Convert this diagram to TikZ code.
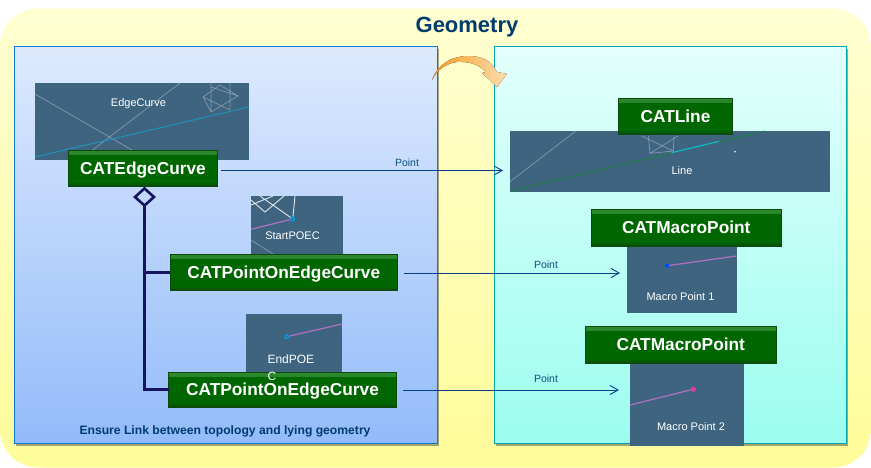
\documentclass[tikz,border=0pt]{standalone}
\usepackage{xcolor}
\usepackage{fontspec}
\setmainfont{Liberation Sans}
\usetikzlibrary{arrows.meta,positioning,shapes.geometric,shadows}
\definecolor{bgtop}{HTML}{FFFFD2}
\definecolor{bgbot}{HTML}{FFFC9A}
\definecolor{lefttop}{HTML}{DDEAFD}
\definecolor{leftbot}{HTML}{93BBFA}
\definecolor{lefteg}{HTML}{0A78D8}
\definecolor{righttop}{HTML}{E4FFFB}
\definecolor{rightbot}{HTML}{9BFDEF}
\definecolor{righteg}{HTML}{00A5AD}
\definecolor{viewcol}{HTML}{3E6480}
\definecolor{catcol}{HTML}{006600}
\definecolor{cattop}{HTML}{2F8A2F}
\definecolor{catbot}{HTML}{0C4A0C}
\definecolor{linkcol}{HTML}{0A3F8C}
\definecolor{stemcol}{HTML}{15155F}
\definecolor{txtcol}{HTML}{0B4F80}
\definecolor{titlecol}{HTML}{003C6E}
\definecolor{pinkcol}{HTML}{B070C0}
\definecolor{cyancol}{HTML}{1F93B8}
\definecolor{linecol}{HTML}{8498A8}
\definecolor{greencol}{HTML}{1F7F45}
\definecolor{arrowa}{HTML}{F79A1E}
\definecolor{arrowb}{HTML}{FBDDB0}

\begin{document}
\begin{tikzpicture}[x=1pt,y=-1pt,
		>={Straight Barb[length=8pt,width=9pt]},
		every node/.append style = {inner sep=0pt,outer sep=0pt},
		panelshadow/.style = {drop shadow={shadow xshift=1.5pt,shadow yshift=-2.5pt,opacity=.35,fill=black}},
		leftpanel/.style = {draw=lefteg,line width=1pt,top color=lefttop,bottom color=leftbot,panelshadow},
		rightpanel/.style = {draw=righteg,line width=1pt,top color=righttop,bottom color=rightbot,panelshadow},
		viewbox/.style = {fill=viewcol},
		viewtxt/.style = {text=white,font=\fontsize{11}{13}\selectfont},
		catbox/.style = {draw=catbot,line width=.8pt,fill=catcol,text=white,text height=12.4pt,text depth=0pt,
			font=\fontsize{17.3}{20}\selectfont\bfseries,
			path picture={
				\shade[top color=cattop,bottom color=catcol] (path picture bounding box.north west) rectangle ([yshift=-4pt]path picture bounding box.north east);
				\shade[top color=catcol,bottom color=catbot] ([yshift=4pt]path picture bounding box.south west) rectangle (path picture bounding box.south east);
			}},
		pointtxt/.style = {text=txtcol,font=\fontsize{10.5}{12}\selectfont},
		link/.style = {->,draw=linkcol,line width=.9pt},
		stem/.style = {draw=stemcol,line width=2.6pt},
		thin1/.style = {draw=linecol,line width=.7pt},
		pink1/.style = {draw=pinkcol,line width=1.2pt}
		]
		\useasboundingbox (0,0) rectangle (871,468);
		
		% background and the two panels
		\node (bg) at (435.5,238) [minimum width=871pt,minimum height=459pt,rounded corners=38pt,top color=bgtop,bottom color=bgbot] {};
		\node (title) at (467,27.5) [text=titlecol,font=\fontsize{22}{26}\selectfont\bfseries] {Geometry};
		\node (topo) at (226,245) [leftpanel,minimum width=423pt,minimum height=397pt] {};
		\node (geom) at (670,245) [rightpanel,minimum width=352pt,minimum height=397pt] {};
		
		% curved arrow
		\fill[left color=arrowa,right color=arrowb]
			(432,80) .. controls (438,64) and (452,56) .. (468,56) .. controls (482,56) and (492,61) .. (497,72)
			-- (507,74) -- (497,87) -- (482,73) -- (486,72)
			.. controls (480,66) and (472,62) .. (462,62) .. controls (450,61) and (438,68) .. (432,80) -- cycle;
		
		% views
		\node (edgeview) at (142,121.5) [viewbox,minimum width=214pt,minimum height=77pt] {};
		\node (startview) at (297,225.5) [viewbox,minimum width=92pt,minimum height=59pt] {};
		\node (endview) at (294,343) [viewbox,minimum width=96pt,minimum height=58pt] {};
		\node (lineview) at (670,161.5) [viewbox,minimum width=320pt,minimum height=61pt] {};
		\node (macroview1) at (682,279.5) [viewbox,minimum width=110pt,minimum height=67pt] {};
		\node (macroview2) at (687,404.5) [viewbox,minimum width=114pt,minimum height=83pt] {};
		
		% sketch inside the views
		\draw[thin1] (35,94) -- (132,150) (180,83) -- (90,152);
		\draw[thin1] (203,97) -- (220,85) -- (238,96) -- (211,112) -- cycle
			(211,83) -- (211,112) (230,83) -- (230,110) (211,87) -- (238,96) (203,97) -- (230,110);
		\draw[cyancol,line width=1pt] (35,157) -- (249,107);
		
		\draw[white!85!viewcol,line width=.9pt] (260,196) -- (292.7,219) -- (295,196)
			(251,205) -- (273,196) (251,200) -- (265,212) -- (284,196);
		\draw[thin1] (251,240) -- (273,254);
		\draw[pink1] (251,229.3) -- (292.7,219);
		\fill[cyan!80!blue] (292.7,219) circle (2.6);
		\fill[viewcol] (292.7,219) circle (.9);
		
		\draw[pink1] (286.7,336.7) -- (342,324);
		\fill[cyan!80!blue] (286.7,336.7) circle (2.6);
		\fill[viewcol] (286.7,336.7) circle (.9);
		
		\draw[thin1] (510,181.7) -- (575.7,131);
		\draw[thin1] (641,135.7) -- (673.3,151) -- (674,136.7) (678.3,135.7) -- (650,153.3) -- (648.3,135.7) (650,153.3) -- (674,151);
		\draw[greencol,line width=.9pt] (510,191) -- (765,131);
		\draw[cyancol!70!cyan,line width=1.2pt] (671.7,152.7) -- (719.3,141.3);
		\fill[white] (735,151.7) circle (.9);
		
		\draw[pink1] (667.3,265.7) -- (736.7,256);
		\fill[blue!70!cyan] (667.3,265.7) circle (2.2);
		\draw[pink1] (630,405) -- (693.3,389.3);
		\fill[magenta!60!pinkcol] (693.3,389.3) circle (2.6);
		
		% classes
		\node (catedge) at (143,168.25) [catbox,minimum width=149pt,minimum height=35.5pt] {CATEdgeCurve};
		\node (catpoec1) at (283.75,272.25) [catbox,minimum width=227.5pt,minimum height=35.5pt] {CATPointOnEdgeCurve};
		\node (catpoec2) at (282.5,389.5) [catbox,minimum width=228pt,minimum height=35pt] {CATPointOnEdgeCurve};
		\node (catline) at (675.5,116.25) [catbox,minimum width=114pt,minimum height=35.5pt] {CATLine};
		\node (catmacro1) at (686.25,227.75) [catbox,minimum width=189.5pt,minimum height=36.5pt] {CATMacroPoint};
		\node (catmacro2) at (680.75,344.75) [catbox,minimum width=190.5pt,minimum height=36.5pt] {CATMacroPoint};
		
		% view names
		\node (edgetxt) at (138.5,103.5) [viewtxt] {EdgeCurve};
		\node (starttxt) at (292.5,236) [viewtxt] {StartPOEC};
		\node (endtxt) at (267.5,367.5) [viewtxt,anchor=west,align=left,font=\fontsize{12}{17}\selectfont] {EndPOE\\C};
		\node (linetxt) at (682,171) [viewtxt] {Line};
		\node (macrotxt1) at (680.5,297) [viewtxt] {Macro Point 1};
		\node (macrotxt2) at (691,427) [viewtxt] {Macro Point 2};
		
		% aggregation
		\node (aggr) at (144.5,197) [diamond,draw=stemcol,line width=2.6pt,minimum width=19pt,minimum height=17pt] {};
		\draw[stem] (aggr.south) |- (catpoec1.west);
		\draw[stem] (aggr.south) |- (catpoec2.west);
		
		% links
		\coordinate (pointA) at (503,170.5);
		\coordinate (pointB) at (620,273);
		\coordinate (pointC) at (619,390);
		\draw[link,shorten <=3.5pt] (catedge.east |- pointA) -- (pointA);
		\draw[link,shorten <=6.5pt] (catpoec1.east |- pointB) -- (pointB);
		\draw[link,shorten <=6.5pt] (catpoec2.east |- pointC) -- (pointC);
		\node (ptxt1) at (407,163) [pointtxt] {Point};
		\node (ptxt2) at (546,265) [pointtxt] {Point};
		\node (ptxt3) at (546,379) [pointtxt] {Point};
		
		\node (note) at (225,431) [text=titlecol,font=\fontsize{12.15}{14}\selectfont\bfseries] {Ensure Link between topology and lying geometry};
\end{tikzpicture}
\end{document}
